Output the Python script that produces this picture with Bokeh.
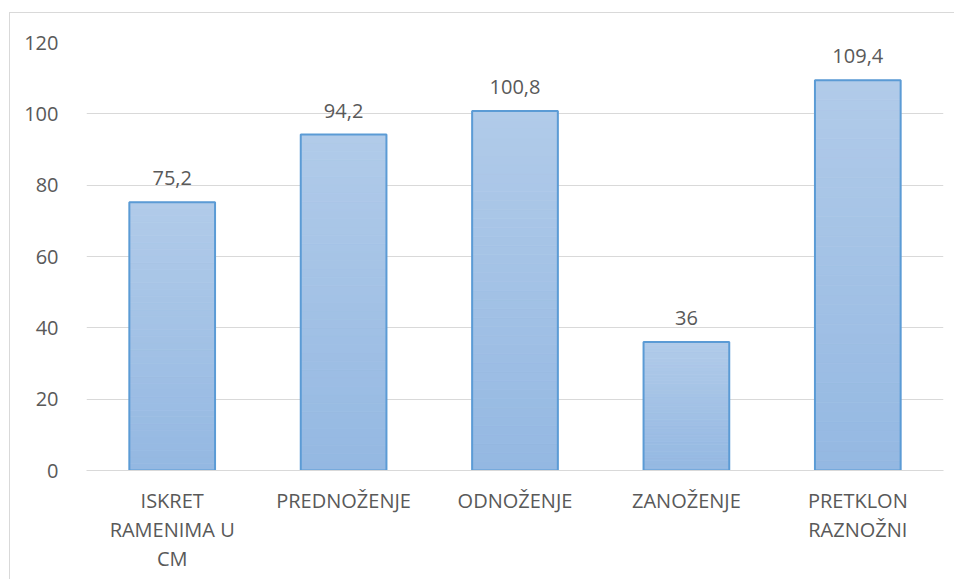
from bokeh.plotting import figure
from bokeh.models import FactorRange, Range1d, FixedTicker, ColumnDataSource
from bokeh.core.properties import value
from bokeh.embed import file_html
from bokeh.resources import INLINE

categories = ["ISKRET\nRAMENIMA U\nCM", "PREDNOŽENJE", "ODNOŽENJE", "ZANOŽENJE", "PRETKLON\nRAZNOŽNI"]
values = [75.2, 94.2, 100.8, 36, 109.4]
value_labels = ["75,2", "94,2", "100,8", "36", "109,4"]
y_ticks = [0, 20, 40, 60, 80, 100, 120]

FONT = "Open Sans"
TXT = "#595959"
GRID = "#d9d9d9"

p = figure(width=945, height=567, x_range=FactorRange(*categories, range_padding=0),
           y_range=Range1d(0, 120), output_backend="svg", toolbar_location=None,
           min_border_left=76, min_border_right=12, min_border_top=29, min_border_bottom=110)
p.styles = {"border-left": "1px solid #d9d9d9", "border-top": "1px solid #d9d9d9",
            "margin-left": "9px", "margin-top": "12px"}
p.outline_line_color = None
p.background_fill_color = "white"
p.border_fill_color = "white"

# gradient fill: stacked slices per bar (top light -> bottom darker)
n = 40
top_c = (0xB1, 0xCB, 0xE9)
bot_c = (0x94, 0xB8, 0xE2)
xs, bots, tops, cols = [], [], [], []
for c, v in zip(categories, values):
    for k in range(n):
        f = (k + 0.5) / n
        col = tuple(int(round(bot_c[i] + (top_c[i] - bot_c[i]) * f)) for i in range(3))
        xs.append(c)
        bots.append(v * k / n)
        tops.append(v * (k + 1) / n)
        cols.append("#%02x%02x%02x" % col)
p.vbar(x=xs, bottom=bots, top=tops, width=0.5, fill_color=cols, line_color=cols, line_width=0.8)
p.vbar(x=categories, top=values, width=0.5, fill_color=None, line_color="#5b9bd5", line_width=2)

src = ColumnDataSource(dict(x=categories, y=values, t=value_labels))
p.text(x="x", y="y", text="t", source=src, text_font=value(FONT), text_font_size="20px",
       text_color=TXT, text_align="center", text_baseline="alphabetic", y_offset=-24)

p.ygrid.grid_line_color = GRID
p.ygrid.grid_line_width = 1
p.xgrid.grid_line_color = None
p.yaxis.ticker = FixedTicker(ticks=y_ticks)
p.yaxis.axis_line_color = None
p.yaxis.major_tick_line_color = None
p.yaxis.minor_tick_line_color = None
p.yaxis.major_label_standoff = 22
p.yaxis.major_label_text_font = FONT
p.yaxis.major_label_text_font_size = "20px"
p.yaxis.major_label_text_color = TXT

p.xaxis.axis_line_color = GRID
p.xaxis.axis_line_width = 1
p.xaxis.major_tick_line_color = None
p.xaxis.minor_tick_line_color = None
p.xaxis.major_label_standoff = 10
p.xaxis.major_label_text_font = FONT
p.xaxis.major_label_text_font_size = "20px"
p.xaxis.major_label_text_color = TXT
p.xaxis.major_label_text_line_height = 1.08

open("out.html", "w").write(file_html(p, INLINE))
